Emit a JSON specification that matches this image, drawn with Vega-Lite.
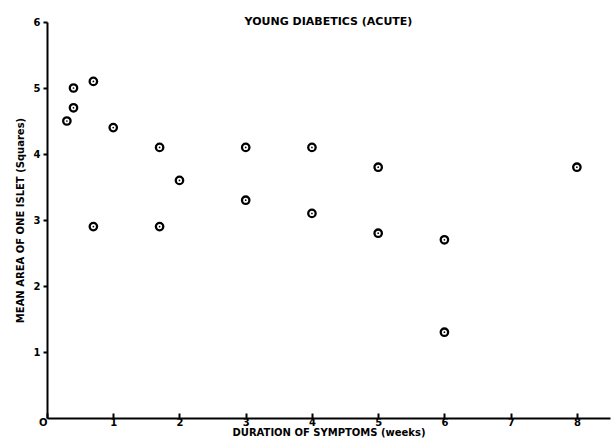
{
  "$schema": "https://vega.github.io/schema/vega-lite/v6.json",
  "width": 563,
  "height": 396,
  "autosize": "none",
  "padding": {"left": 47, "top": 22, "right": 3, "bottom": 26},
  "background": "white",
  "config": {
    "view": {"stroke": null},
    "font": "DejaVu Sans",
    "axis": {
      "grid": false,
      "domainColor": "black",
      "domainWidth": 2,
      "tickColor": "black",
      "tickWidth": 2,
      "labelColor": "black",
      "titleColor": "black",
      "labelFont": "DejaVu Sans",
      "titleFont": "DejaVu Sans",
      "labelFontWeight": "bold",
      "titleFontWeight": "bold",
      "labelFontSize": 10,
      "titleFontSize": 10
    }
  },
  "title": {
    "text": "YOUNG DIABETICS (ACUTE)",
    "font": "DejaVu Sans",
    "fontSize": 11,
    "fontWeight": "bold",
    "color": "black",
    "anchor": "middle",
    "offset": -10,
    "dx": 0
  },
  "data": {
    "values": [
      {"weeks": 0.3, "area": 4.5},
      {"weeks": 0.4, "area": 4.7},
      {"weeks": 0.4, "area": 5.0},
      {"weeks": 0.7, "area": 5.1},
      {"weeks": 1.0, "area": 4.4},
      {"weeks": 0.7, "area": 2.9},
      {"weeks": 1.7, "area": 4.1},
      {"weeks": 2.0, "area": 3.6},
      {"weeks": 1.7, "area": 2.9},
      {"weeks": 3.0, "area": 4.1},
      {"weeks": 3.0, "area": 3.3},
      {"weeks": 4.0, "area": 4.1},
      {"weeks": 4.0, "area": 3.1},
      {"weeks": 5.0, "area": 3.8},
      {"weeks": 5.0, "area": 2.8},
      {"weeks": 6.0, "area": 2.7},
      {"weeks": 6.0, "area": 1.3},
      {"weeks": 8.0, "area": 3.8}
    ]
  },
  "encoding": {
    "x": {
      "field": "weeks",
      "type": "quantitative",
      "scale": {"domain": [0, 8.5], "nice": false, "zero": true},
      "axis": {
        "values": [0, 1, 2, 3, 4, 5, 6, 7, 8],
        "tickSize": -5,
        "labelPadding": 4,
        "labelAlign": {"expr": "datum.value == 0 ? 'right' : 'center'"},
        "labelExpr": "datum.value == 0 ? 'O' : datum.label",
        "title": "DURATION OF SYMPTOMS (weeks)",
        "titlePadding": 0
      }
    },
    "y": {
      "field": "area",
      "type": "quantitative",
      "scale": {"domain": [0, 6], "nice": false},
      "axis": {
        "values": [1, 2, 3, 4, 5, 6],
        "tickSize": 4,
        "labelPadding": 3,
        "title": "MEAN AREA OF ONE ISLET (Squares)",
        "titlePadding": 8
      }
    }
  },
  "layer": [
    {
      "mark": {"type": "point", "shape": "circle", "size": 55, "stroke": "black", "strokeWidth": 2.3, "filled": false, "opacity": 1}
    },
    {
      "mark": {"type": "point", "shape": "circle", "size": 3, "fill": "black", "filled": true, "opacity": 1}
    }
  ]
}
